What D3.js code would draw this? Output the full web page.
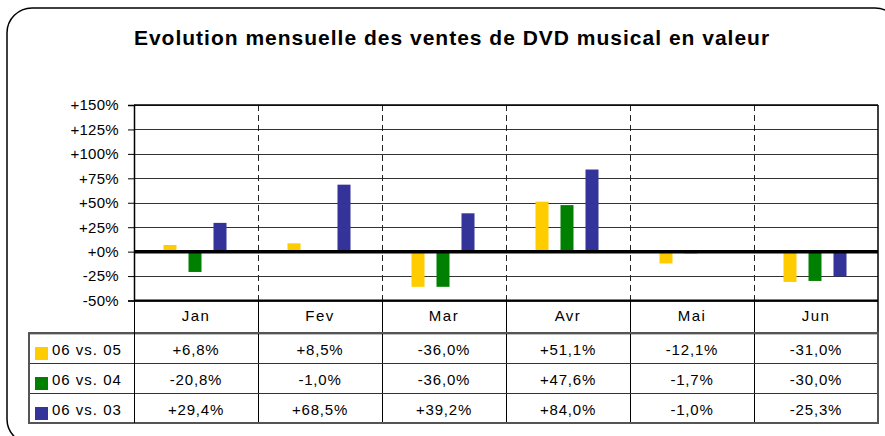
<!DOCTYPE html>
<html>
<head>
<meta charset="utf-8">
<script src="https://cdn.jsdelivr.net/npm/d3@7"></script>
<style>
  body { margin: 0; background: #fff; }
  svg { display: block; font-family: "Liberation Sans", Arial, sans-serif; }
</style>
</head>
<body>
<div id="chart"></div>
<script>
// chart data
const months = ["Jan", "Fev", "Mar", "Avr", "Mai", "Jun"];
const seriesNames = ["06 vs. 05", "06 vs. 04", "06 vs. 03"];
const vs05 = [6.8, 8.5, -36.0, 51.1, -12.1, -31.0];
const vs04 = [-20.8, -1.0, -36.0, 47.6, -1.7, -30.0];
const vs03 = [29.4, 68.5, 39.2, 84.0, -1.0, -25.3];
const seriesColors = ["#FFCC00", "#008000", "#333399"];
const yTicks = [-50, -25, 0, 25, 50, 75, 100, 125, 150];
const title = "Evolution mensuelle des ventes de DVD musical en valeur";

const seriesValues = [vs05, vs04, vs03];

const width = 885, height = 436;
const plot = { left: 134, right: 878, top: 105, bottom: 300.5 };
const rowTop = 333, rowH = 30, legendLeft = 29;

const fmt = v => (v > 0 ? "+" : "") + v.toFixed(1).replace(".", ",") + "%";

const svg = d3.select("#chart").append("svg")
  .attr("width", width)
  .attr("height", height);

// rounded outer frame
svg.append("rect")
  .attr("x", 7).attr("y", 8)
  .attr("width", 893).attr("height", 436)
  .attr("rx", 25)
  .attr("fill", "#fff")
  .attr("stroke", "#000")
  .attr("stroke-width", 1.5);

svg.append("text")
  .attr("x", 452)
  .attr("y", 45)
  .attr("text-anchor", "middle")
  .style("font-size", "21px")
  .style("font-weight", "bold")
  .style("letter-spacing", "1px")
  .text(title);

// scales
const x = d3.scaleBand().domain(months).range([plot.left, plot.right]);
const xs = d3.scaleBand().domain(seriesNames).range([29.5, 92.5]).paddingInner(0.48);
const y = d3.scaleLinear().domain([-50, 150]).range([plot.bottom, plot.top]);

// horizontal gridlines
svg.append("g")
  .selectAll("line")
  .data(yTicks.filter(t => t !== 0))
  .join("line")
  .attr("x1", plot.left).attr("x2", plot.right)
  .attr("y1", d => Math.round(y(d)) + 0.5)
  .attr("y2", d => Math.round(y(d)) + 0.5)
  .attr("stroke", "#333")
  .attr("stroke-width", 1);

// dashed category separators
svg.append("g")
  .selectAll("line")
  .data(months.slice(1))
  .join("line")
  .attr("x1", d => Math.round(x(d)) + 0.5)
  .attr("x2", d => Math.round(x(d)) + 0.5)
  .attr("y1", plot.top).attr("y2", plot.bottom)
  .attr("stroke", "#222")
  .attr("stroke-dasharray", "6,4");

// bars
const groups = svg.append("g")
  .selectAll("g")
  .data(months)
  .join("g")
  .attr("transform", d => `translate(${x(d)},0)`);

groups.selectAll("rect")
  .data((m, i) => seriesNames.map((s, k) => ({ s, v: seriesValues[k][i], c: seriesColors[k] })))
  .join("rect")
  .attr("x", d => xs(d.s))
  .attr("width", xs.bandwidth())
  .attr("y", d => y(Math.max(0, d.v)))
  .attr("height", d => Math.abs(y(d.v) - y(0)))
  .attr("fill", d => d.c);

// zero line
svg.append("line")
  .attr("x1", plot.left).attr("x2", plot.right)
  .attr("y1", y(0)).attr("y2", y(0))
  .attr("stroke", "#000")
  .attr("stroke-width", 3.5);

// y axis
const yAxis = svg.append("g")
  .attr("transform", `translate(${plot.left},0)`)
  .call(d3.axisLeft(y).tickValues(yTicks).tickSize(6).tickPadding(9)
    .tickFormat(d => (d >= 0 ? "+" : "") + d + "%"));
yAxis.select(".domain").attr("stroke", "#000").attr("stroke-width", 1.5);
yAxis.selectAll(".tick line").attr("stroke", "#000");
yAxis.selectAll(".tick text")
  .attr("fill", "#000")
  .style("font-size", "15px")
  .style("letter-spacing", "0.3px")
  .style("font-family", "'Liberation Sans', Arial, sans-serif");

// plot frame top / right
svg.append("line")
  .attr("x1", plot.left).attr("x2", plot.right)
  .attr("y1", plot.top).attr("y2", plot.top)
  .attr("stroke", "#000").attr("stroke-width", 1.5);
svg.append("line")
  .attr("x1", plot.right).attr("x2", plot.right)
  .attr("y1", plot.top).attr("y2", rowTop + rowH * 3)
  .attr("stroke", "#000").attr("stroke-width", 1.5);

// data table
const tableBottom = rowTop + rowH * 3;
const table = svg.append("g");

// header row (months)
table.append("line")
  .attr("x1", plot.left).attr("x2", plot.right)
  .attr("y1", plot.bottom).attr("y2", plot.bottom)
  .attr("stroke", "#000").attr("stroke-width", 2);

table.selectAll(".col")
  .data(months.slice(1))
  .join("line")
  .attr("class", "col")
  .attr("x1", d => Math.round(x(d)) + 0.5)
  .attr("x2", d => Math.round(x(d)) + 0.5)
  .attr("y1", plot.bottom).attr("y2", tableBottom)
  .attr("stroke", "#000");

table.selectAll(".month")
  .data(months)
  .join("text")
  .attr("class", "month")
  .attr("x", d => x(d) + x.bandwidth() / 2)
  .attr("y", 321)
  .attr("text-anchor", "middle")
  .style("font-size", "15px")
  .style("letter-spacing", "1.5px")
  .text(d => d);

// row lines
table.selectAll(".row")
  .data([0, 1, 2])
  .join("line")
  .attr("class", "row")
  .attr("x1", legendLeft).attr("x2", plot.right)
  .attr("y1", d => rowTop + d * rowH + 0.5)
  .attr("y2", d => rowTop + d * rowH + 0.5)
  .attr("stroke", d => d === 0 ? "#000" : "#333")
  .attr("stroke-width", d => d === 0 ? 1.5 : 1);

// outer table border
table.append("rect")
  .attr("x", legendLeft).attr("y", rowTop)
  .attr("width", plot.right - legendLeft)
  .attr("height", rowH * 3)
  .attr("fill", "none")
  .attr("stroke", "#555")
  .attr("stroke-width", 2);

table.append("line")
  .attr("x1", plot.left + 0.5).attr("x2", plot.left + 0.5)
  .attr("y1", plot.bottom).attr("y2", tableBottom)
  .attr("stroke", "#000");

// legend + values per row
const rows = table.selectAll(".datarow")
  .data(seriesNames)
  .join("g")
  .attr("class", "datarow")
  .attr("transform", (d, i) => `translate(0,${rowTop + i * rowH})`);

rows.append("rect")
  .attr("x", 35).attr("y", 14)
  .attr("width", 13).attr("height", 13)
  .attr("fill", (d, i) => seriesColors[i]);

rows.append("text")
  .attr("x", 52).attr("y", 22)
  .style("font-size", "15px")
  .style("letter-spacing", "1px")
  .text(d => d);

rows.selectAll(".val")
  .data((d, i) => seriesValues[i].map((v, j) => ({ v, m: months[j] })))
  .join("text")
  .attr("class", "val")
  .attr("x", d => x(d.m) + x.bandwidth() / 2)
  .attr("y", 22)
  .attr("text-anchor", "middle")
  .style("font-size", "15px")
  .style("letter-spacing", "0.8px")
  .text(d => fmt(d.v));
</script>
</body>
</html>
